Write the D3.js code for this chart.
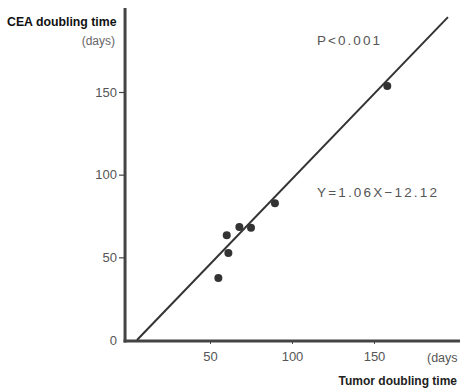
<!DOCTYPE html>
<html><head><meta charset="utf-8">
<script src="https://cdnjs.cloudflare.com/ajax/libs/d3/7.8.5/d3.min.js"></script>
<style>body{margin:0;background:#fff}svg{display:block}</style>
</head><body>
<script>
const tumorDays = [55.1, 60.2, 61.2, 67.9, 75.0, 89.6, 158.1];
const ceaDays   = [37.5, 63.3, 52.6, 68.3, 67.9, 82.7, 153.6];
const lineX = [5.5, 195.1];
const lineY = [0, 195.3];
const xTicks = [50, 100, 150];
const yTicks = [0, 50, 100, 150];

const W = 460, H = 390;
const svg = d3.select("body").append("svg").attr("width", W).attr("height", H);
const x = d3.scaleLinear().domain([0, 200]).range([128, 456]);
const y = d3.scaleLinear().domain([0, 150]).range([340, 92]);
const font = "'Liberation Sans', Arial, sans-serif";
const axisCol = "#444", txtCol = "#555";

// y axis
const ya = svg.append("g").attr("transform", `translate(${x(-1.8)},0)`)
  .call(d3.axisLeft(y).tickValues(yTicks).tickSize(6).tickPadding(2).tickFormat(d3.format("d")));
ya.select(".domain").remove();
ya.selectAll("line").attr("stroke", axisCol).attr("stroke-width", 1.2);
ya.selectAll("text").attr("font-family", font).attr("font-size", 13).attr("fill", txtCol);
ya.selectAll(".tick").filter(d => d === 0).select("line").remove();

// x axis
const xa = svg.append("g").attr("transform", `translate(0,${y(0) + 1})`)
  .call(d3.axisBottom(x).tickValues(xTicks).tickSize(3).tickPadding(8).tickFormat(d3.format("d")));
xa.select(".domain").remove();
xa.selectAll("line").attr("stroke", axisCol).attr("stroke-width", 1);
xa.selectAll("text").attr("font-family", font).attr("font-size", 13).attr("fill", txtCol);

// axis lines
svg.append("line").attr("x1", x(-1.8)).attr("x2", x(-1.8)).attr("y1", 8).attr("y2", y(0) + 2.5)
  .attr("stroke", axisCol).attr("stroke-width", 3);
svg.append("line").attr("x1", x(-1.8) - 1.5).attr("x2", W).attr("y1", y(0) + 1).attr("y2", y(0) + 1)
  .attr("stroke", axisCol).attr("stroke-width", 3);

// regression line
svg.append("line")
  .attr("x1", x(lineX[0])).attr("y1", y(lineY[0]))
  .attr("x2", x(lineX[1])).attr("y2", y(lineY[1]))
  .attr("stroke", "#333").attr("stroke-width", 2);

// points
svg.selectAll("circle.pt").data(tumorDays).enter().append("circle")
  .attr("class", "pt")
  .attr("cx", d => x(d)).attr("cy", (d, i) => y(ceaDays[i]))
  .attr("r", 4).attr("fill", "#333");

// texts
svg.append("text").attr("x", 7).attr("y", 26).attr("font-family", font).attr("font-weight", "bold")
  .attr("font-size", 12.3).attr("fill", "#111").text("CEA doubling time");
svg.append("text").attr("x", 115).attr("y", 45).attr("text-anchor", "end").attr("font-family", font)
  .attr("font-size", 12).attr("fill", "#666").text("(days)");
svg.append("text").attr("x", 317).attr("y", 45).attr("font-family", font)
  .attr("font-size", 13.5).attr("fill", txtCol).attr("textLength", 63).text("P<0.001");
svg.append("text").attr("x", 317).attr("y", 197).attr("font-family", font)
  .attr("font-size", 13.5).attr("fill", txtCol).attr("textLength", 120).text("Y=1.06X−12.12");
svg.append("text").attr("x", 427).attr("y", 362).attr("font-family", font)
  .attr("font-size", 12.5).attr("fill", txtCol).text("(days");
svg.append("text").attr("x", 457).attr("y", 385).attr("text-anchor", "end").attr("font-family", font)
  .attr("font-weight", "bold").attr("font-size", 12).attr("fill", "#222").text("Tumor doubling time");
</script>
</body></html>
